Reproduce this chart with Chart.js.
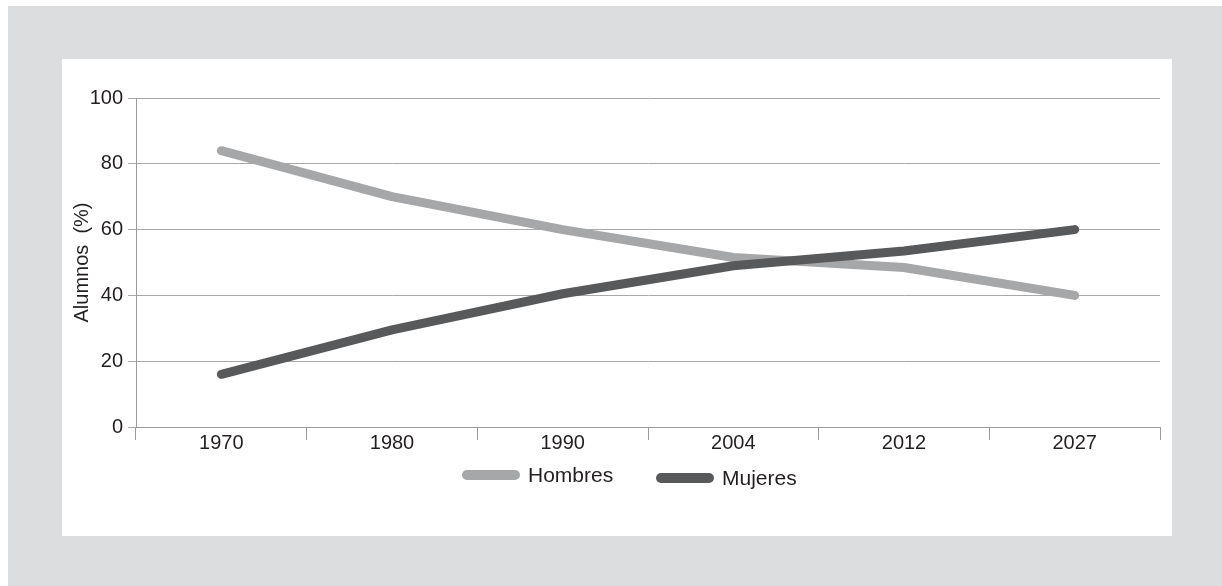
<!DOCTYPE html>
<html>
<head>
<meta charset="utf-8">
<script src="https://cdn.jsdelivr.net/npm/chart.js@4"></script>
<style>
    html, body { margin: 0; padding: 0; background: #fff; }
    body { width: 1222px; height: 586px; position: relative; overflow: hidden; }
    .fondo { position: absolute; left: 8px; top: 6px; right: 0; bottom: 0; background: #dcdddf; }
    .panel { position: absolute; left: 62px; top: 59px; width: 1110px; height: 477px; background: #fff; }
    .panel canvas { position: absolute; left: 0; top: 0; }
    .leyenda {
        position: absolute; left: 400px; top: 405px;
        font-family: "Liberation Sans", Arial, sans-serif; font-size: 21px; color: #231f20;
    }
    .leyenda-item { position: absolute; white-space: nowrap; }
    .leyenda-linea { position: absolute; width: 58px; height: 10px; border-radius: 5px; }
    .leyenda-texto { position: absolute; left: 66px; top: -7px; }
</style>
</head>
<body>
<div class="fondo"></div>
<div class="panel">
    <canvas id="grafico" width="1110" height="477"></canvas>
    <div class="leyenda" id="leyenda"></div>
</div>
<script>
    const anios = ['1970', '1980', '1990', '2004', '2012', '2027'];
    const hombres = [84, 70, 60, 51.5, 48.5, 40];
    const mujeres = [16, 29.5, 40.5, 49, 53.5, 60];
    const ticksY = [0, 20, 40, 60, 80, 100];

    const colorHombres = '#a6a7a9';
    const colorMujeres = '#58595b';
    const colorTexto = '#231f20';
    const fuente = '"Liberation Sans", Arial, sans-serif';

    const canvas = document.getElementById('grafico');

    const grafico = new Chart(canvas, {
        type: 'line',
        data: {
            labels: anios,
            datasets: [{
                label: 'Hombres',
                data: hombres,
                borderColor: colorHombres,
                backgroundColor: colorHombres,
                order: 1
            }, {
                label: 'Mujeres',
                data: mujeres,
                borderColor: colorMujeres,
                backgroundColor: colorMujeres,
                order: 0
            }]
        },
        options: {
            responsive: false,
            animation: false,
            devicePixelRatio: 1,
            layout: {
                padding: { left: 0, right: 12, top: 39, bottom: 69 }
            },
            elements: {
                line: {
                    borderWidth: 9,
                    tension: 0,
                    borderCapStyle: 'round',
                    borderJoinStyle: 'round'
                },
                point: { radius: 0 }
            },
            plugins: {
                legend: { display: false },
                tooltip: { enabled: false }
            },
            scales: {
                x: {
                    offset: true,
                    afterFit: function (scale) { scale.height = 40; },
                    grid: {
                        offset: true,
                        drawOnChartArea: false,
                        tickLength: 13,
                        color: '#9a9a9a'
                    },
                    border: { color: '#9a9a9a' },
                    ticks: {
                        padding: -9,
                        color: colorTexto,
                        font: { family: fuente, size: 20 }
                    }
                },
                y: {
                    min: 0,
                    max: 100,
                    afterFit: function (scale) { scale.width = 74; },
                    afterBuildTicks: function (scale) {
                        scale.ticks = ticksY.map(function (v) { return { value: v }; });
                    },
                    grid: {
                        color: '#a8a8a8',
                        tickLength: 8
                    },
                    border: { color: '#9a9a9a' },
                    ticks: {
                        padding: 5,
                        color: colorTexto,
                        font: { family: fuente, size: 20 }
                    },
                    title: {
                        display: true,
                        text: 'Alumnos  (%)',
                        color: colorTexto,
                        padding: { top: 8, bottom: 0 },
                        font: { family: fuente, size: 20 }
                    }
                }
            }
        }
    });

    // leyenda en HTML a partir de los datasets
    const leyenda = document.getElementById('leyenda');
    const posiciones = [{ x: 0, y: 6 }, { x: 194, y: 9 }];
    grafico.data.datasets.forEach(function (ds, i) {
        const item = document.createElement('div');
        item.className = 'leyenda-item';
        item.style.left = posiciones[i].x + 'px';
        item.style.top = posiciones[i].y + 'px';
        item.innerHTML = '<span class="leyenda-linea" style="background:' + ds.borderColor + '"></span>' +
            '<span class="leyenda-texto">' + ds.label + '</span>';
        leyenda.appendChild(item);
    });
</script>
</body>
</html>
